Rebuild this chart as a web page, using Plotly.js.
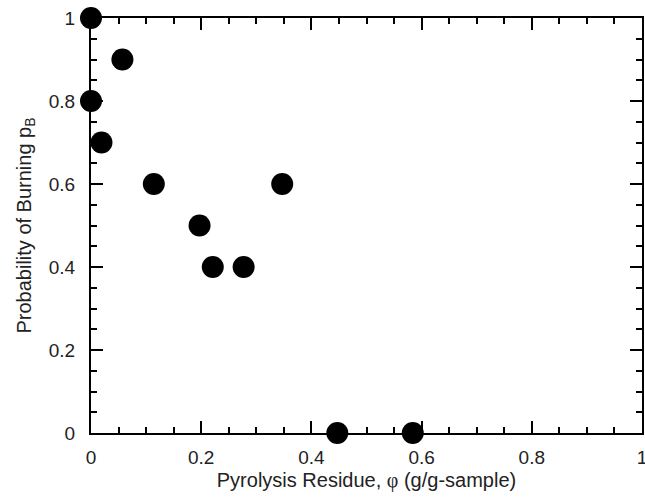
<!DOCTYPE html>
<html>
<head>
<meta charset="utf-8">
<script src="https://cdn.plot.ly/plotly-3.0.1.min.js"></script>
<style>html,body{margin:0;padding:0;background:#fff;}#chart{width:645px;height:499px;}</style>
</head>
<body>
<div id="chart"></div>
<script>
// Data
const residue = [0, 0, 0.019, 0.057, 0.114, 0.197, 0.221, 0.277, 0.347, 0.447, 0.584];
const probBurning = [1.0, 0.8, 0.7, 0.9, 0.6, 0.5, 0.4, 0.4, 0.6, 0, 0];
const xTickVals = [0, 0.2, 0.4, 0.6, 0.8, 1];
const xTickText = ['0', '0.2', '0.4', '0.6', '0.8', '1'];
const yTickVals = [0, 0.2, 0.4, 0.6, 0.8, 1];
const yTickText = ['0', '0.2', '0.4', '0.6', '0.8', '1'];

const FONT = 'Liberation Sans, Arial, Helvetica, sans-serif';

const trace = {
  x: residue,
  y: probBurning,
  type: 'scatter',
  mode: 'markers',
  marker: {color: '#000', size: 22, line: {width: 0}},
  cliponaxis: false,
  hoverinfo: 'x+y'
};

const axisCommon = {
  showgrid: false,
  zeroline: false,
  showline: true,
  linecolor: '#000',
  linewidth: 2,
  mirror: 'ticks',
  ticks: 'inside',
  ticklen: 12,
  tickwidth: 2,
  tickcolor: '#000',
  tickfont: {family: FONT, size: 19, color: '#222'},
  ticklabeloverflow: 'allow',
  minor: {dtick: 0.05, ticks: 'inside', ticklen: 6, tickwidth: 2, tickcolor: '#000', showgrid: false},
  tickmode: 'array',
  fixedrange: true
};

const layout = {
  width: 645,
  height: 499,
  margin: {l: 91, r: 3, t: 18, b: 66},
  paper_bgcolor: '#fff',
  plot_bgcolor: '#fff',
  showlegend: false,
  font: {family: FONT, color: '#222'},
  xaxis: Object.assign({}, axisCommon, {
    range: [0, 1],
    tickvals: xTickVals,
    ticktext: xTickText,
    ticklabelstandoff: 6,
    title: {text: "Pyrolysis Residue, <span style=\"font-family:'Liberation Serif', serif\">φ</span> (g/g-sample)", font: {family: FONT, size: 20, color: '#222'}, standoff: 6}
  }),
  yaxis: Object.assign({}, axisCommon, {
    range: [0, 1],
    tickvals: yTickVals,
    ticktext: yTickText,
    ticklabelstandoff: 10,
    title: {text: 'Probability of Burning p<sub>B</sub>', font: {family: FONT, size: 20, color: '#222'}, standoff: 12}
  })
};

Plotly.newPlot('chart', [trace], layout, {displayModeBar: false, staticPlot: true});
</script>
</body>
</html>
